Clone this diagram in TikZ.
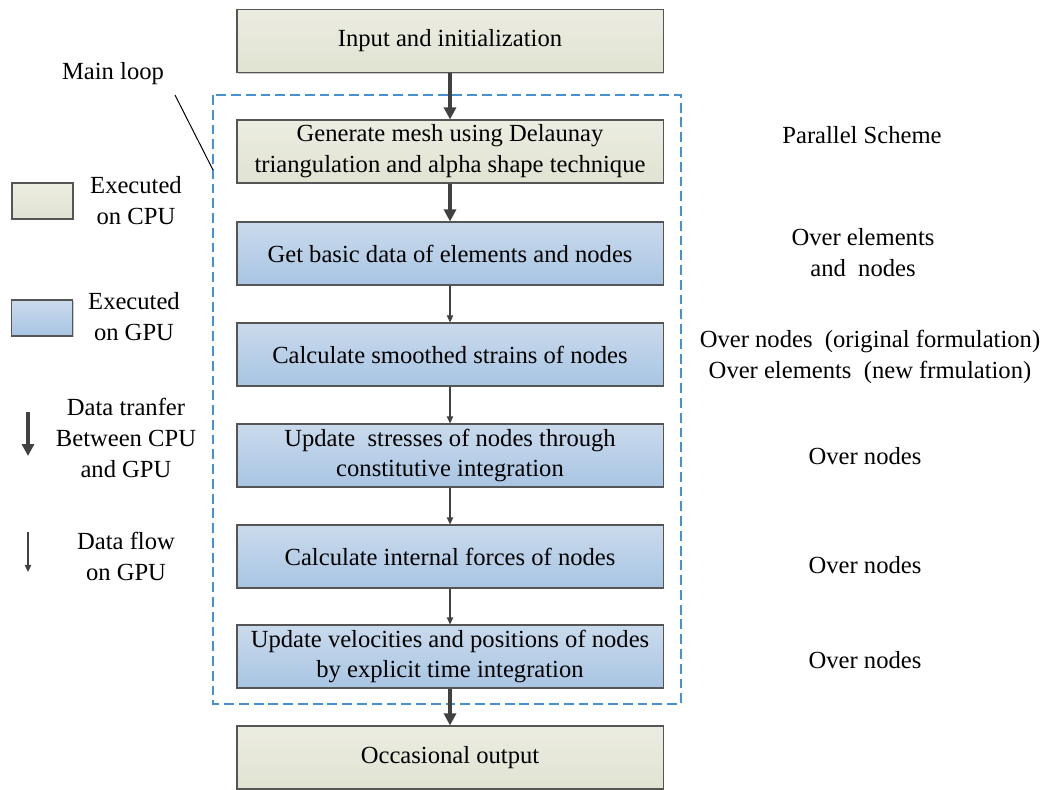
\documentclass[tikz,border=0pt]{standalone}
\usepackage{fontspec}
\setmainfont{Liberation Serif}
\usetikzlibrary{arrows.meta,shadows}

\definecolor{cpuTop}{RGB}{236,237,225}
\definecolor{cpuBot}{RGB}{224,226,210}
\definecolor{gpuTop}{RGB}{202,218,236}
\definecolor{gpuBot}{RGB}{168,197,227}
\definecolor{boxLine}{RGB}{85,85,85}
\definecolor{arrowGray}{RGB}{65,65,65}
\definecolor{loopBlue}{RGB}{70,145,210}

\tikzset{
  txt/.style={font=\fontsize{17.5}{22}\selectfont, align=center, inner sep=0pt},
  boxbase/.style={txt, draw=boxLine, line width=0.8pt,
    drop shadow={shadow xshift=1pt, shadow yshift=-1pt, fill=black!50, opacity=0.4}},
  cpu/.style={boxbase, top color=cpuTop, bottom color=cpuBot,
    minimum width=10.65cm, minimum height=1.575cm},
  gpu/.style={boxbase, top color=gpuTop, bottom color=gpuBot,
    minimum width=10.65cm, minimum height=1.575cm},
  bigarrow/.style={draw=arrowGray, fill=arrowGray, line width=2.8pt,
    -{Triangle[length=8.5pt,width=8.5pt]}},
  smallarrow/.style={draw=arrowGray, fill=arrowGray, line width=0.9pt,
    -{Triangle[length=5pt,width=4.5pt]}},
  loopbox/.style={draw=loopBlue, line width=1pt, dash pattern=on 7pt off 3.5pt}
}

\begin{document}
\begin{tikzpicture}[x=0.025cm, y=-0.025cm]
\useasboundingbox (0,0) rectangle (1049,789);

% main loop frame
\draw[loopbox] (213,95) rectangle (681,704);
\coordinate (loopEdge) at (213,170);
\coordinate (labelEnd) at (175,95);
\node[txt] (mainloop) at (113,74) {Main loop};
\draw[black, line width=0.7pt] (labelEnd) -- (loopEdge);

% flow chart
\node[cpu] (input)    at (450,41)    {Input and initialization};
\node[cpu] (mesh)     at (450,151.5) {Generate mesh using Delaunay\\triangulation and alpha shape technique};
\node[gpu] (basic)    at (450,253.5) {Get basic data of elements and nodes};
\node[gpu] (strain)   at (450,354.5) {Calculate smoothed strains of nodes};
\node[gpu] (stress)   at (450,455.5) {Update\ \ stresses of nodes through\\constitutive integration};
\node[gpu] (force)    at (450,556.5) {Calculate internal forces of nodes};
\node[gpu] (update)   at (450,656.5) {Update velocities and positions of nodes\\by explicit time integration};
\node[cpu] (output)   at (450,757.5) {Occasional output};

\draw[bigarrow] (input) -- (mesh);
\draw[bigarrow] (mesh) -- (basic);
\draw[smallarrow] (basic) -- (strain);
\draw[smallarrow] (strain) -- (stress);
\draw[smallarrow] (stress) -- (force);
\draw[smallarrow] (force) -- (update);
\draw[bigarrow] (update) -- (output);

% parallel scheme column
\node[txt] (scheme) at (862,135) {Parallel Scheme};
\node[txt] (sBasic) at (863,253) {Over elements\\and\ \ nodes};
\node[txt] (sStrain) at (870,357) {Over nodes\ \ (original formulation)\\Over elements\ \ (new frmulation)};
\node[txt] (sStress) at (865,456) {Over nodes};
\node[txt] (sForce) at (865,565) {Over nodes};
\node[txt] (sUpdate) at (865,660) {Over nodes};

% legend
\node[boxbase, top color=cpuTop, bottom color=cpuBot,
  minimum width=1.525cm, minimum height=0.9cm] (legCpu) at (42.5,201) {};
\node[txt] (legCpuTxt) at (136,201) {Executed\\on CPU};
\node[boxbase, top color=gpuTop, bottom color=gpuBot,
  minimum width=1.525cm, minimum height=0.9cm] (legGpu) at (42,318) {};
\node[txt] (legGpuTxt) at (134,317) {Executed\\on GPU};
\coordinate (bigTop) at (28,412);
\coordinate (bigEnd) at (28,456);
\draw[bigarrow] (bigTop) -- (bigEnd);
\node[txt] (legBigTxt) at (126,438) {Data tranfer\\Between CPU\\and GPU};
\coordinate (smallTop) at (28,532);
\coordinate (smallEnd) at (28,572);
\draw[smallarrow] (smallTop) -- (smallEnd);
\node[txt] (legSmallTxt) at (126,556) {Data flow\\on GPU};

\end{tikzpicture}
\end{document}
